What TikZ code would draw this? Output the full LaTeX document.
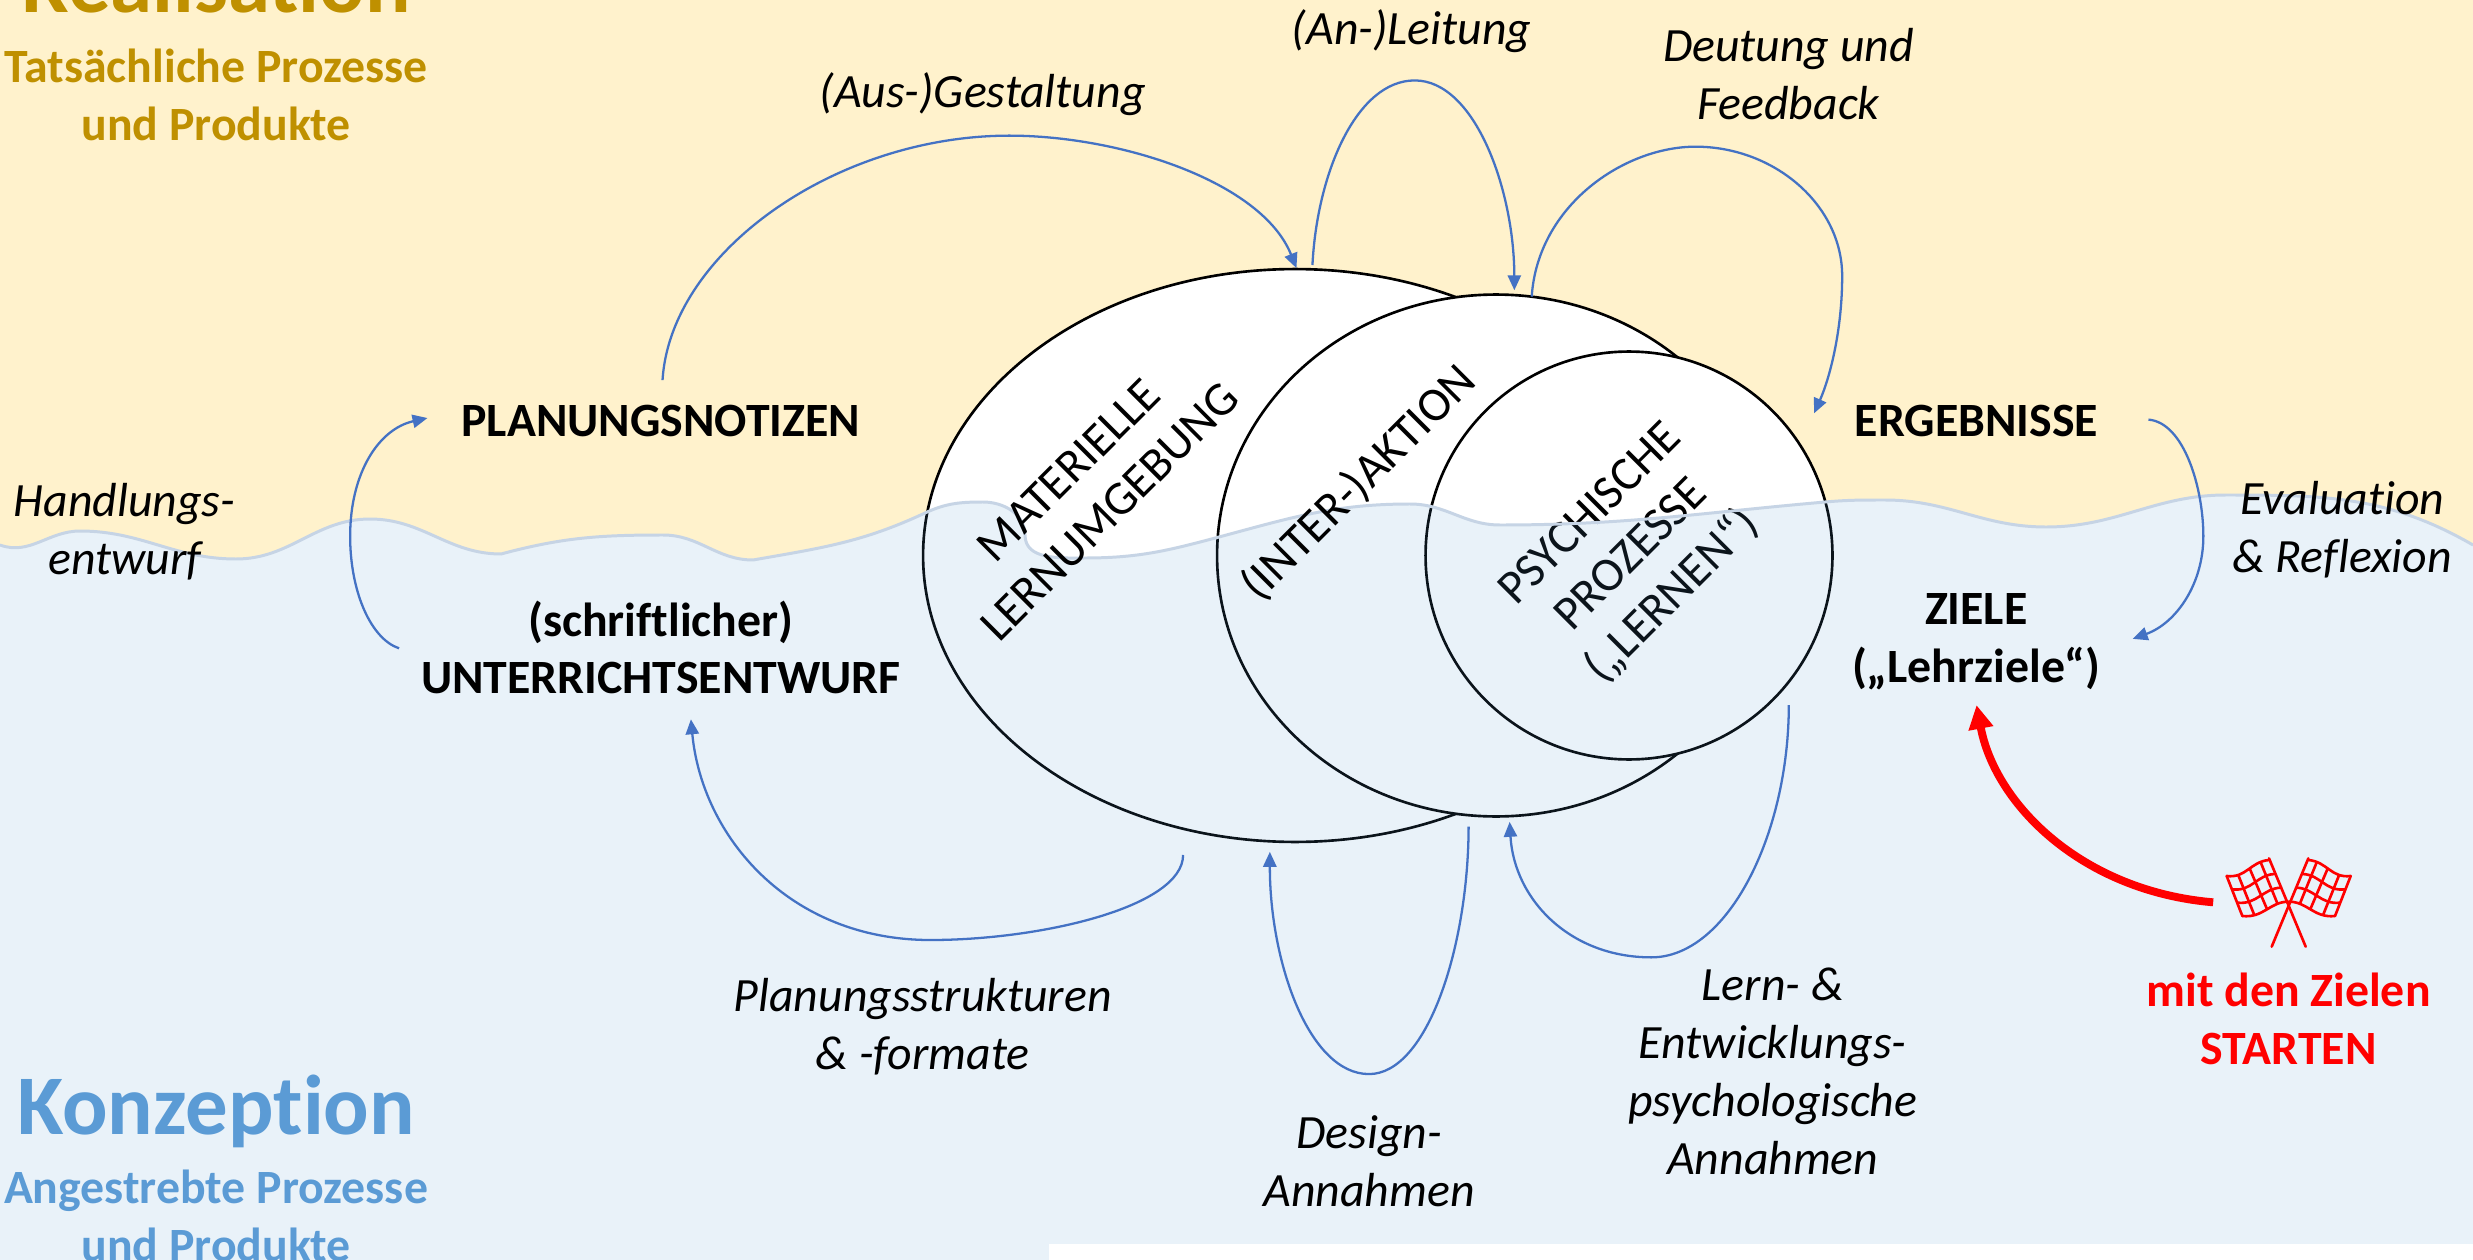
\documentclass[tikz,border=0pt]{standalone}
\usepackage{fontspec}
\setmainfont{Carlito}[Ligatures=NoCommon]
\usetikzlibrary{arrows.meta,shapes.geometric,calc}
\definecolor{bgyellow}{HTML}{FFF2CC}
\definecolor{layerblue}{HTML}{5B9BD5}
\definecolor{waveline}{HTML}{C6D4E5}
\definecolor{gold}{HTML}{BF9000}
\definecolor{headblue}{HTML}{5B9BD5}
\definecolor{arrowblue}{HTML}{4472C4}
\definecolor{startred}{HTML}{FF0000}
\newcommand{\waveline}{(0,545) to[out=-20,in=180] (80,531) to[out=0,in=180] (236,559) to[out=0,in=180] (370,519) to[out=0,in=180] (501,554) to[out=15,in=180] (663,535) to[out=0,in=180] (753,560) to[out=10,in=205] (925,513) to[out=25,in=180] (983,502) to[out=0,in=90] (1025,535) to[out=-90,in=180] (1085,558) to[out=0,in=195] (1219,537) to[out=15,in=180] (1410,504) to[out=0,in=180] (1500,525) to[out=0,in=185] (1825,502) to[out=5,in=180] (1885,500) to[out=0,in=180] (2046,527) to[out=0,in=180] (2226,495) to[out=0,in=150] (2473,545)}
\tikzset{
  every node/.style={inner sep=0pt,outer sep=0pt},
  bub/.style={ellipse,draw=black,fill=white,line width=1.5pt,inner sep=0pt},
  txt/.style={align=center,font=\fontsize{27.2}{33}\selectfont},
  boldlab/.style={txt,font=\fontsize{27.2}{33}\selectfont\bfseries},
  itlab/.style={txt,font=\fontsize{27.2}{33}\selectfont\itshape},
  headlab/.style={font=\fontsize{48.3}{56}\selectfont\bfseries},
  conn/.style={draw=arrowblue,line width=1.3pt,-{Triangle[length=8.5pt,width=7.5pt]}},
  redconn/.style={draw=startred,line width=4.5pt,-{Triangle[length=13.5pt,width=13.5pt]}},
  flagline/.style={draw=startred,line width=1.5pt,line cap=round,line join=round}
}
\begin{document}
\begin{tikzpicture}[x=0.02cm,y=-0.02cm]
\useasboundingbox (0,0) rectangle (2473,1260);
\clip (0,0) rectangle (2473,1260);
\fill[bgyellow] (0,0) rectangle (2473,1260);
\fill[white] \waveline -- (2473,1260) -- (0,1260) -- cycle;
% nested ellipses
\node[bub,minimum width=14.88cm,minimum height=11.46cm] (mat) at (1295,555.5) {};
\node[bub,minimum width=11.16cm,minimum height=10.44cm] (inter) at (1496,555.5) {};
\node[bub,minimum width=8.14cm,minimum height=8.16cm] (psy) at (1629,555.5) {};
\node[txt,rotate=45] (psytxt) at (1632,556) {PSYCHISCHE\\PROZESSE\\(„LERNEN“)};
% translucent water layer
\fill[layerblue,fill opacity=0.13] \waveline -- (2473,1260) -- (0,1260) -- cycle;
\draw[waveline,line width=1.7pt] \waveline;
\fill[white] (1049,1244) rectangle (2473,1260);
\node[txt,rotate=45] (mattxt) at (1089,491) {MATERIELLE\\LERNUMGEBUNG};
\node[txt,rotate=45] (intertxt) at (1359,483) {(INTER-)AKTION};
\begin{scope}[scale=1.5772]
\node[headlab,text=gold,anchor=base] (real) at (137,8) {Realisation};
\node[boldlab,text=gold] (realsub) at (137,60) {Tatsächliche Prozesse\\und Produkte};
\node[headlab,text=headblue,anchor=base] (konz) at (137,719) {Konzeption};
\node[boldlab,text=headblue] (konzsub) at (137,771) {Angestrebte Prozesse\\und Produkte};
\node[boldlab] (plan) at (419,267) {PLANUNGSNOTIZEN};
\node[boldlab] (entw) at (419,410.5) {(schriftlicher)\\UNTERRICHTSENTWURF};
\node[boldlab] (erg) at (1253,267) {ERGEBNISSE};
\node[boldlab] (ziele) at (1253,407) {ZIELE\\(„Lehrziele“)};
\node[itlab] (gest) at (623,60) {(Aus-)Gestaltung};
\node[itlab] (leit) at (895,20) {(An-)Leitung};
\node[itlab] (deut) at (1134,47) {Deutung und\\Feedback};
\node[itlab] (hand) at (79,337) {Handlungs-\\entwurf};
\node[itlab] (eval) at (1485,336) {Evaluation\\\& Reflexion};
\node[itlab] (pstr) at (585,651) {Planungsstrukturen\\\& -formate};
\node[itlab] (desi) at (868,736) {Design-\\Annahmen};
\node[itlab] (lern) at (1124,679) {Lern- \&\\Entwicklungs-\\psychologische\\Annahmen};
\node[boldlab,text=startred] (start) at (1451,646) {mit den Zielen\\STARTEN};
% free ends of the connectors
\coordinate (a1s) at (420,241);
\coordinate (a2s) at (832,168);
\coordinate (a2e) at (960,184);
\coordinate (a3s) at (971,188);
\coordinate (a3e) at (1150,262);
\coordinate (a4s) at (1362,266);
\coordinate (a4e) at (1352,405);
\coordinate (a5s) at (253,411);
\coordinate (a5e) at (271,265);
\coordinate (a6s) at (750,542);
\coordinate (a6e) at (438,456);
\coordinate (a7s) at (931,524);
\coordinate (a7e) at (805,540);
\coordinate (a8s) at (1134,447);
\coordinate (a8e) at (957,521);
\coordinate (a9s) at (1403,572);
\coordinate (a9e) at (1253,447);
\draw[conn] (a1s) .. controls (425,160) and (530,86) .. (640,86) .. controls (710,86) and (800,115) .. (822,170);
\draw[conn] (a2s) .. controls (835,110) and (860,51) .. (897,51) .. controls (935,51) and (960,120) .. (a2e);
\draw[conn] (a3s) .. controls (975,130) and (1030,93) .. (1075,93) .. controls (1125,93) and (1168,130) .. (1168,175) .. controls (1168,210) and (1160,240) .. (a3e);
\draw[conn] (a4s) .. controls (1385,268) and (1397,310) .. (1397,340) .. controls (1397,370) and (1380,395) .. (a4e);
\draw[conn] (a5s) .. controls (235,405) and (222,375) .. (222,340) .. controls (222,300) and (240,272) .. (a5e);
\draw[conn] (a6s) .. controls (750,575) and (660,596) .. (590,596) .. controls (500,596) and (445,530) .. (a6e);
\draw[conn] (a7s) .. controls (931,600) and (905,681) .. (868,681) .. controls (830,681) and (805,610) .. (a7e);
\draw[conn] (a8s) .. controls (1134,530) and (1095,607) .. (1047,607) .. controls (995,607) and (960,570) .. (a8e);
\draw[redconn] (a9s) .. controls (1320,565) and (1265,510) .. (a9e);
\end{scope}
% crossed flags
\begin{scope}[shift={(2050,800)},scale=1/3]
\foreach \m/\o in {1/0,-1/1432}{
\begin{scope}[xshift=\o*0.02cm,xscale=\m]
\draw[flagline] (657,175) -- (767,440);
\draw[flagline] (530,228) .. controls (590,235) and (600,185) .. (657,180);
\draw[flagline] (548,268) .. controls (605,275) and (620,225) .. (673,222);
\draw[flagline] (562,308) .. controls (620,315) and (640,265) .. (692,263);
\draw[flagline] (577,348) .. controls (640,355) and (660,305) .. (715,305);
\draw[flagline] (530,228) -- (577,348);
\draw[flagline] (565,226) -- (612,343);
\draw[flagline] (600,208) -- (650,325);
\draw[flagline] (632,187) -- (682,310);
\end{scope}}
\end{scope}
\end{tikzpicture}
\end{document}
